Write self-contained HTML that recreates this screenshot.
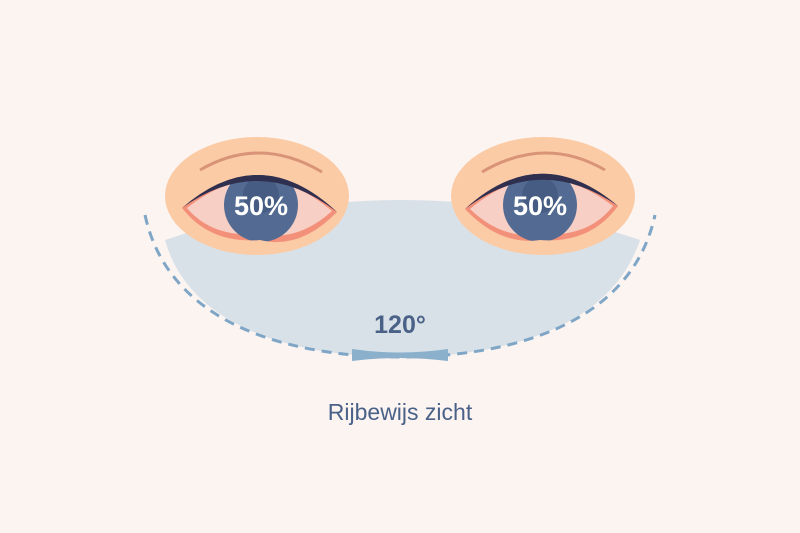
<!DOCTYPE html>
<html><head><style>
html,body{margin:0;padding:0;background:#fbf4f1;}
svg{display:block}
</style></head><body>
<svg width="800" height="533" viewBox="0 0 800 533" xmlns="http://www.w3.org/2000/svg">
<defs>
<clipPath id="almL"><path d="M182,208 Q260,140 337,212 Q300,250 260,240 Q210,244 182,208 Z"/></clipPath>
<clipPath id="almR"><path d="M465,209 Q540,140 618,206 Q590,244 540,240 Q500,246 465,209 Z"/></clipPath>
</defs>
<rect width="800" height="533" fill="#fbf4f1"/>
<path d="M165,240 Q400,160 640,240 C610,330 500,357 400,357 C300,357 190,330 165,240 Z" fill="#d9e1e8"/>
<path d="M145,215 C170,330 300,357 400,357 C500,357 630,330 655,215" fill="none" stroke="#7fa6c6" stroke-width="3" stroke-dasharray="10,7"/>
<path d="M352,349 Q400,356 448,349 L448,361 Q400,355 352,361 Z" fill="#8ab0cc"/>
<text x="400" y="333" text-anchor="middle" font-family="Liberation Sans, sans-serif" font-weight="bold" font-size="25" fill="#4a6188">120°</text>
<text x="400" y="420" text-anchor="middle" font-family="Liberation Sans, sans-serif" font-size="23" fill="#4a6188">Rijbewijs zicht</text>

<!-- left eye -->
<ellipse cx="257" cy="196" rx="92" ry="59" fill="#fbcba6"/>
<path d="M200,170 Q260,135 322,172" fill="none" stroke="#d99478" stroke-width="3"/>
<path d="M182,208 Q260,140 337,212 Q300,250 260,240 Q210,244 182,208 Z" fill="#f3907a"/>
<path d="M187,208 Q260,150 332,211 Q298,242 260,234 Q212,238 187,208 Z" fill="#f7cfc4"/>
<g clip-path="url(#almL)">
<circle cx="261" cy="205" r="37" fill="#536b92"/>
<circle cx="261" cy="195" r="18" fill="#475c82"/>
</g>
<path d="M182,208 Q260,140 337,212 Q260,152 182,208 Z" fill="#2f2f4f"/>
<text x="261" y="215" text-anchor="middle" font-family="Liberation Sans, sans-serif" font-weight="bold" font-size="27" fill="#fff">50%</text>

<!-- right eye -->
<ellipse cx="543" cy="196" rx="92" ry="59" fill="#fbcba6"/>
<path d="M482,172 Q545,135 605,170" fill="none" stroke="#d99478" stroke-width="3"/>
<path d="M465,209 Q540,140 618,206 Q590,244 540,240 Q500,246 465,209 Z" fill="#f3907a"/>
<path d="M470,209 Q540,150 613,206 Q588,238 540,234 Q502,240 470,209 Z" fill="#f7cfc4"/>
<g clip-path="url(#almR)">
<circle cx="540" cy="205" r="37" fill="#536b92"/>
<circle cx="540" cy="195" r="18" fill="#475c82"/>
</g>
<path d="M465,209 Q540,140 618,206 Q540,152 465,209 Z" fill="#2f2f4f"/>
<text x="540" y="215" text-anchor="middle" font-family="Liberation Sans, sans-serif" font-weight="bold" font-size="27" fill="#fff">50%</text>
</svg>
</body></html>
